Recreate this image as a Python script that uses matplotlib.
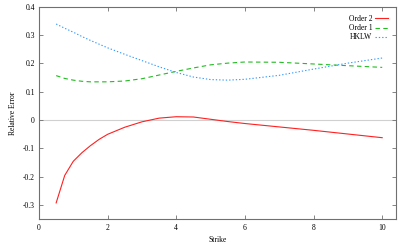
import matplotlib
matplotlib.use("Agg")
import matplotlib.pyplot as plt

strike = [0.5, 0.75, 1.0, 1.25, 1.5, 1.75, 2.0, 2.5, 3.0, 3.5, 4.0, 4.5, 5.0, 5.5, 6.0, 7.0, 8.0, 9.0, 10.0]
order2 = [-0.292, -0.195, -0.145, -0.115, -0.09, -0.068, -0.05, -0.025, -0.006, 0.007, 0.012, 0.011, 0.003, -0.005, -0.012, -0.024, -0.036, -0.049, -0.062]
order1 = [0.157, 0.147, 0.141, 0.137, 0.135, 0.135, 0.135, 0.138, 0.146, 0.159, 0.172, 0.184, 0.195, 0.201, 0.205, 0.204, 0.198, 0.192, 0.186]
hklw = [0.339, 0.324, 0.31, 0.295, 0.281, 0.268, 0.255, 0.232, 0.21, 0.188, 0.168, 0.152, 0.143, 0.141, 0.144, 0.158, 0.18, 0.201, 0.219]

xticks = [0, 2, 4, 6, 8, 10]
yticks = [-0.3, -0.2, -0.1, 0, 0.1, 0.2, 0.3, 0.4]
ytick_labels = ["-0.3", "-0.2", "-0.1", "0", "0.1", "0.2", "0.3", "0.4"]

plt.rcParams['font.family'] = ['Liberation Serif', 'DejaVu Serif']
fig = plt.figure(figsize=(4.07, 2.44), dpi=100)
ax = fig.add_axes([0.0958, 0.101, 0.877, 0.8715])

ax.axhline(0, color='#d0d0d0', lw=0.8, zorder=1)
ax.plot(strike, order2, color='#ff2020', lw=0.8, label='Order 2', zorder=3)
ax.plot(strike, order1, color='#22bb22', lw=0.8, ls=(0, (4, 3)), label='Order 1', zorder=3)
ax.plot(strike, hklw, color='#3399ff', lw=0.8, ls=(0, (1.2, 1.8)), label='HKLW', zorder=3)

ax.set_xlim(0, 10.4)
ax.set_ylim(-0.35, 0.4)
ax.set_xticks(xticks)
ax.set_yticks(yticks)
ax.set_yticklabels(ytick_labels)
ax.tick_params(direction='in', length=3, width=0.6, color='#707070', labelsize=5.5,
               top=True, right=True, pad=3)
for s in ax.spines.values():
    s.set_color('#707070')
    s.set_linewidth(0.8)

ax.set_xlabel('Strike', fontsize=5.5, labelpad=3)
ax.set_ylabel('Relative Error', fontsize=5.5, labelpad=4)

leg = ax.legend(loc='upper right', fontsize=5.5, frameon=False, markerfirst=False,
                handlelength=1.6, handletextpad=0.4, labelspacing=0.15,
                borderaxespad=0.9, borderpad=0.2)

fig.savefig('out.png', dpi=100)
